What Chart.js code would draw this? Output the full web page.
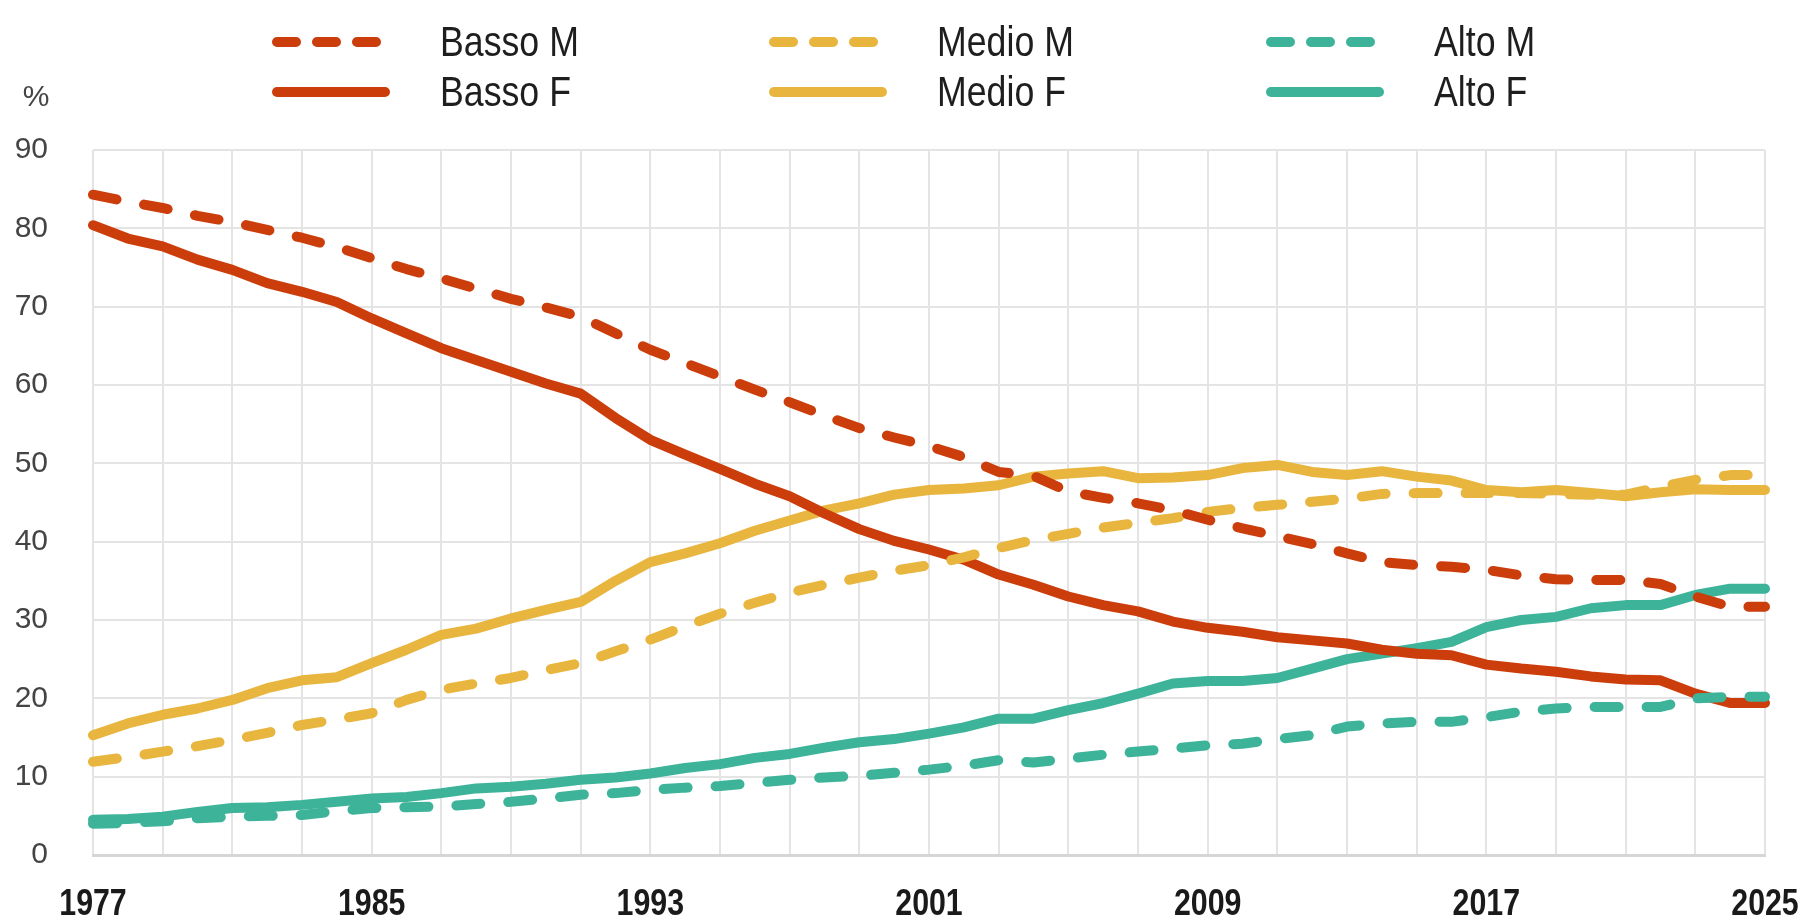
<!DOCTYPE html>
<html>
<head>
<meta charset="utf-8">
<script src="https://cdn.jsdelivr.net/npm/chart.js@4.4.1/dist/chart.umd.min.js"></script>
<style>
  html, body { margin: 0; padding: 0; background: #fff; overflow: hidden; }
  #wrap { position: relative; width: 1800px; height: 919px; }
  #legend { position: absolute; left: 0; top: 0; width: 1800px; height: 130px;
            font-family: 'Liberation Sans', Arial, sans-serif;
            font-size: 42px; color: #1e1e1e; }
  .item { position: absolute; height: 48px; display: flex; align-items: center; white-space: nowrap; }
  .item svg { width: 118px; height: 14px; margin-right: 50px; flex: none; }
  .item span { display: inline-block; transform: scaleX(0.85); transform-origin: left center; }
</style>
</head>
<body>
<div id="wrap">
  <canvas id="chart"></canvas>
  <div id="legend"></div>
</div>
<script>
// years on the x axis
var years = [1977, 1978, 1979, 1980, 1981, 1982, 1983, 1984, 1985, 1986,
             1987, 1988, 1989, 1990, 1991, 1992, 1993, 1994, 1995, 1996,
             1997, 1998, 1999, 2000, 2001, 2002, 2003, 2004, 2005, 2006,
             2007, 2008, 2009, 2010, 2011, 2012, 2013, 2014, 2015, 2016,
             2017, 2018, 2019, 2020, 2021, 2022, 2023, 2024, 2025];

// % values
var bassoM = [84.3, 83.4, 82.6, 81.6, 80.8, 79.8, 78.8, 77.6, 76.2, 74.8,
              73.6, 72.3, 71.0, 69.9, 68.7, 66.6, 64.5, 62.8, 61.1, 59.4,
              57.8, 56.1, 54.5, 53.3, 52.2, 50.8, 48.9, 48.4, 46.4, 45.6,
              44.9, 44.0, 42.8, 41.7, 40.7, 39.7, 38.5, 37.4, 37.0, 36.8,
              36.4, 35.7, 35.2, 35.1, 35.1, 34.6, 33.0, 31.7, 31.7];
var bassoF = [80.4, 78.7, 77.7, 76.0, 74.7, 73.0, 71.9, 70.6, 68.5, 66.6,
              64.7, 63.2, 61.7, 60.2, 58.9, 55.8, 53.0, 51.1, 49.3, 47.4,
              45.8, 43.6, 41.6, 40.1, 39.0, 37.7, 35.8, 34.5, 33.0, 31.9,
              31.1, 29.8, 29.0, 28.5, 27.8, 27.4, 27.0, 26.2, 25.7, 25.5,
              24.3, 23.8, 23.4, 22.8, 22.4, 22.3, 20.6, 19.4, 19.4];
var medioM = [11.9, 12.5, 13.2, 13.9, 14.7, 15.6, 16.6, 17.3, 18.1, 19.8,
              21.1, 21.9, 22.6, 23.6, 24.5, 26.0, 27.5, 29.2, 30.8, 32.2,
              33.5, 34.5, 35.4, 36.3, 37.0, 38.0, 39.2, 40.2, 41.0, 41.8,
              42.4, 43.0, 43.8, 44.3, 44.7, 45.1, 45.5, 46.1, 46.2, 46.2,
              46.2, 46.2, 46.1, 46.0, 46.0, 47.0, 47.9, 48.5, 48.5];
var medioF = [15.3, 16.8, 17.9, 18.7, 19.8, 21.3, 22.3, 22.7, 24.5, 26.2,
              28.1, 28.9, 30.2, 31.3, 32.3, 35.0, 37.4, 38.5, 39.8, 41.4,
              42.7, 44.0, 44.9, 46.0, 46.6, 46.8, 47.2, 48.3, 48.7, 49.0,
              48.1, 48.2, 48.5, 49.4, 49.8, 48.9, 48.5, 49.0, 48.3, 47.8,
              46.6, 46.3, 46.6, 46.2, 45.8, 46.3, 46.7, 46.6, 46.6];
var altoM = [4.0, 4.1, 4.3, 4.7, 4.9, 5.0, 5.1, 5.6, 6.0, 6.1,
             6.2, 6.5, 6.8, 7.2, 7.7, 7.9, 8.3, 8.6, 8.8, 9.2,
             9.6, 9.9, 10.1, 10.5, 10.9, 11.4, 12.1, 11.8, 12.3, 12.8,
             13.2, 13.6, 14.0, 14.2, 14.8, 15.3, 16.4, 16.8, 17.0, 17.0,
             17.6, 18.3, 18.7, 18.9, 18.9, 18.9, 20.0, 20.2, 20.2];
var altoF = [4.5, 4.6, 4.9, 5.5, 6.0, 6.1, 6.4, 6.8, 7.2, 7.4,
             7.9, 8.5, 8.7, 9.1, 9.6, 9.9, 10.4, 11.1, 11.6, 12.4,
             12.9, 13.7, 14.4, 14.8, 15.5, 16.3, 17.4, 17.4, 18.5, 19.4,
             20.6, 21.9, 22.2, 22.2, 22.6, 23.8, 25.0, 25.7, 26.4, 27.2,
             29.1, 30.0, 30.4, 31.5, 31.9, 31.9, 33.2, 34.0, 34.0];

var yTicks = [0, 10, 20, 30, 40, 50, 60, 70, 80, 90];

var RED = '#cc3d0c';
var YELLOW = '#e8b53e';
var TEAL = '#3db39a';
var DASH = [24, 28];

function series(label, data, color, dashed) {
    return {
        label: label,
        data: data,
        borderColor: color,
        backgroundColor: color,
        borderWidth: 10,
        borderDash: dashed ? DASH : [],
        borderCapStyle: 'round',
        borderJoinStyle: 'round',
        pointRadius: 0,
        tension: 0,
        fill: false,
        dashed: dashed
    };
}

Chart.defaults.font.family = "'Liberation Sans', Arial, sans-serif";

// small "%" over the y axis
var percentLabel = {
    id: 'percentLabel',
    afterDraw: function (chart) {
        var ctx = chart.ctx;
        var ys = chart.scales.y;
        ctx.save();
        ctx.font = "30px 'Liberation Sans', Arial, sans-serif";
        ctx.fillStyle = '#444';
        ctx.textAlign = 'center';
        ctx.textBaseline = 'middle';
        ctx.fillText('%', ys.left + 21, chart.chartArea.top - 52);
        ctx.restore();
    }
};

// bold, slightly condensed year labels every 8 years
var yearLabels = {
    id: 'yearLabels',
    afterDraw: function (chart) {
        var ctx = chart.ctx;
        var xs = chart.scales.x;
        ctx.save();
        ctx.font = "bold 37px 'Liberation Sans', Arial, sans-serif";
        ctx.fillStyle = '#1a1a1a';
        ctx.textAlign = 'center';
        ctx.textBaseline = 'alphabetic';
        years.forEach(function (yr, i) {
            if (i % 8 !== 0) return;
            ctx.save();
            ctx.translate(xs.getPixelForValue(i), chart.chartArea.bottom + 60);
            ctx.scale(0.82, 1);
            ctx.fillText(String(yr), 0, 0);
            ctx.restore();
        });
        ctx.restore();
    }
};

var ctx = document.getElementById('chart').getContext('2d');
var myChart = new Chart(ctx, {
    type: 'line',
    data: {
        labels: years,
        datasets: [
            series('Basso M', bassoM, RED, true),
            series('Medio M', medioM, YELLOW, true),
            series('Alto M', altoM, TEAL, true),
            series('Basso F', bassoF, RED, false),
            series('Medio F', medioF, YELLOW, false),
            series('Alto F', altoF, TEAL, false)
        ]
    },
    options: {
        responsive: true,
        maintainAspectRatio: false,
        animation: false,
        layout: { padding: { top: 150, left: 15, right: 35, bottom: 0 } },
        plugins: {
            legend: { display: false },
            tooltip: { enabled: false }
        },
        scales: {
            x: {
                offset: false,
                grid: {
                    drawTicks: false,
                    lineWidth: 2,
                    color: function (c) { return c.index % 2 === 0 ? '#e4e4e4' : 'rgba(0,0,0,0)'; }
                },
                border: { display: true, color: '#d6d6d6', width: 3 },
                ticks: { display: false, autoSkip: false },
                afterFit: function (scale) {
                    scale.paddingLeft = 0;
                    scale.paddingRight = 0;
                    scale.height = 64;
                }
            },
            y: {
                min: yTicks[0],
                max: yTicks[yTicks.length - 1],
                grid: { drawTicks: false, lineWidth: 2, color: '#e4e4e4' },
                border: { display: false },
                ticks: {
                    stepSize: 10,
                    padding: 45,
                    color: '#444',
                    font: { size: 30 }
                },
                afterFit: function (scale) {
                    scale.paddingTop = 0;
                    scale.paddingBottom = 0;
                    scale.width = 78;
                }
            }
        }
    },
    plugins: [percentLabel, yearLabels]
});

// legend: three columns, M on the first row, F on the second
var legendBox = document.getElementById('legend');
myChart.data.datasets.forEach(function (ds, i) {
    var col = i % 3;
    var row = Math.floor(i / 3);
    var item = document.createElement('div');
    item.className = 'item';
    item.style.left = (272 + col * 497) + 'px';
    item.style.top = (18 + row * 50) + 'px';
    var dash = ds.dashed ? ' stroke-dasharray="19 21"' : '';
    item.innerHTML = '<svg viewBox="0 0 118 14"><line x1="5" y1="7" x2="113" y2="7" stroke="' + ds.borderColor +
        '" stroke-width="10" stroke-linecap="round"' + dash + '/></svg><span>' + ds.label + '</span>';
    legendBox.appendChild(item);
});
</script>
</body>
</html>
